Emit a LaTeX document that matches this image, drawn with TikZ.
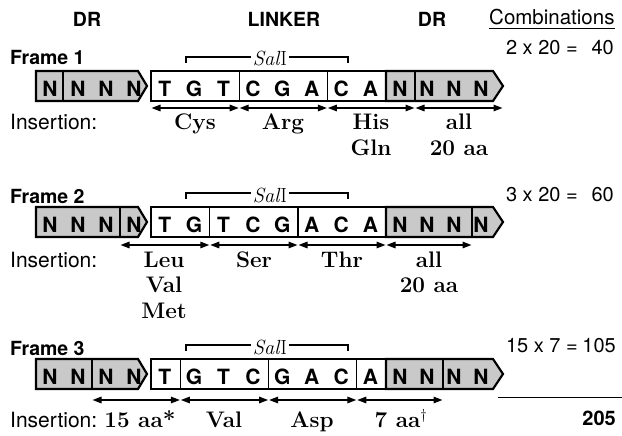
\documentclass[tikz,border=0pt]{standalone}
\usepackage{fontspec}
\setsansfont{TeX Gyre Heros}
\usetikzlibrary{arrows.meta}
\tikzset{
  dr/.style={fill=gray!42, draw=black, line width=2.2pt, line join=miter},
  lk/.style={draw=black, line width=2.2pt},
  div/.style={line width=1.3pt},
  nt/.style={font=\sffamily\bfseries\fontsize{21}{21}\selectfont, anchor=base, inner sep=0pt},
  aa/.style={font=\bfseries\fontsize{22.5}{25}\selectfont, anchor=base, inner sep=0pt},
  hdr/.style={font=\sffamily\bfseries\fontsize{19.5}{19.5}\selectfont, anchor=base, inner sep=0pt},
  frm/.style={font=\sffamily\bfseries\fontsize{19.5}{19.5}\selectfont, anchor=base west, inner sep=0pt},
  ins/.style={font=\sffamily\fontsize{21}{21}\selectfont, anchor=base west, inner sep=0pt},
  cmb/.style={font=\sffamily\fontsize{20}{20}\selectfont, anchor=base east, inner sep=0pt},
  sal/.style={font=\fontsize{20.5}{20.5}\selectfont, anchor=base, fill=white, inner xsep=2pt, inner ysep=0pt},
  bracket/.style={line width=1.1pt},
  span/.style={{Triangle[length=9pt,width=6.5pt]}-{Triangle[length=9pt,width=6.5pt]}, line width=1.4pt, shorten <=0.5pt, shorten >=0.5pt}
}
% #1 prefix, #2 top, #3 left DR divider, #4 right DR divider, #5 linker dividers
\newcommand\dnarow[5]{%
  \pgfmathsetmacro\tp{#2}\pgfmathsetmacro\bt{#2+30}%
  \pgfmathsetmacro\md{#2+15}\pgfmathsetmacro\bl{#2+25.5}%
  \pgfmathsetmacro\bra{#2-14}\pgfmathsetmacro\brb{#2-8}\pgfmathsetmacro\sb{#2-5}%
  \draw[dr] (36,\tp) -- (138,\tp) -- (147,\md) -- (138,\bt) -- (36,\bt) -- cycle;
  \draw[div] (#3,\tp) -- (#3,\bt);
  \foreach \x [count=\i] in {50,78,106,134} \node[nt] (#1l\i) at (\x,\bl) {N};
  \draw[lk] (151,\tp) rectangle (386,\bt);
  \foreach \x in {#5} \draw[div] (\x,\tp) -- (\x,\bt);
  \foreach \c [count=\i from 0] in {T,G,T,C,G,A,C,A}
    \node[nt] (#1k\i) at ({151+29.4*(\i+0.5)-1},\bl) {\c};
  \draw[dr] (386,\tp) -- (493,\tp) -- (503,\md) -- (493,\bt) -- (386,\bt) -- cycle;
  \draw[div] (#4,\tp) -- (#4,\bt);
  \foreach \x [count=\i] in {400,427,454,481} \node[nt] (#1r\i) at (\x,\bl) {N};
  \draw[bracket] (186,\brb) -- (186,\bra) -- (348,\bra) -- (348,\brb);
  \node[sal] (#1sal) at (270,\sb) {\textit{Sal}I};
}
\begin{document}
\begin{tikzpicture}[x=1pt,y=-1pt]
\useasboundingbox (0,0) rectangle (622,436);
% headers
\node[hdr] (h1) at (87,27) {DR};
\node[hdr] (h2) at (284,27) {LINKER};
\node[hdr] (h3) at (432,27) {DR};
\node[font=\sffamily\fontsize{20.5}{20.5}\selectfont, anchor=base west, inner sep=0pt] (comb) at (489,25) {Combinations};
\draw[line width=0.9pt] ([yshift=-3.5pt]comb.base west) -- ([yshift=-3.5pt]comb.base east);

% Frame 1
\node[frm] (f1) at (10,65) {Frame 1};
\dnarow{a}{71}{63}{415}{239.2,327.4}
\draw[span] (151,108) -- (239.2,108);
\draw[span] (239.2,108) -- (327.4,108);
\draw[span] (327.4,108) -- (415,108);
\draw[span] (415,108) -- (503,108);
\node[ins] (i1) at (10,130) {Insertion:};
\node[aa] (a1) at (195,130) {Cys};
\node[aa] (a2) at (283,130) {Arg};
\node[aa] (a3) at (371,130) {His};
\node[aa] (a3b) at (371,155) {Gln};
\node[aa] (a4) at (459,130) {all};
\node[aa] (a4b) at (459,155) {20 aa};
\node[cmb] (c1a) at (578,55) {2 x 20 =};
\node[cmb] (c1b) at (614,55) {40};

% Frame 2
\node[frm] (f2) at (10,203) {Frame 2};
\dnarow{b}{207}{120}{472}{209.8,298}
\draw[span] (120,245) -- (209.8,245);
\draw[span] (209.8,245) -- (298,245);
\draw[span] (298,245) -- (386,245);
\draw[span] (386,245) -- (472,245);
\node[ins] (i2) at (10,267) {Insertion:};
\node[aa] (b1) at (164,267) {Leu};
\node[aa] (b1b) at (164,292) {Val};
\node[aa] (b1c) at (164,318) {Met};
\node[aa] (b2) at (254,267) {Ser};
\node[aa] (b3) at (342,267) {Thr};
\node[aa] (b4) at (429,267) {all};
\node[aa] (b4b) at (429,292) {20 aa};
\node[cmb] (c2a) at (578,201) {3 x 20 =};
\node[cmb] (c2b) at (614,201) {60};

% Frame 3
\node[frm] (f3) at (10,355) {Frame 3};
\dnarow{c}{359}{92}{443}{180.4,268.6,356.8}
\draw[span] (92,400) -- (180.4,400);
\draw[span] (180.4,400) -- (268.6,400);
\draw[span] (268.6,400) -- (356.8,400);
\draw[span] (356.8,400) -- (443,400);
\node[ins] (i3) at (10,427) {Insertion:};
\node[aa] (d1) at (140,427) {15 aa*};
\node[aa] (d2) at (224,427) {Val};
\node[aa] (d3) at (312,427) {Asp};
\node[aa] (d4) at (401,427) {7 aa$^{\dagger}$};
\node[cmb] (c3a) at (578,352) {15 x 7 =};
\node[cmb] (c3b) at (616,352) {105};
\coordinate (sumL) at (498,397);
\coordinate (sumR) at (622,397);
\draw[line width=1pt] (sumL) -- (sumR);
\node[cmb, font=\sffamily\bfseries\fontsize{20}{20}\selectfont] (tot) at (616,425) {205};
\end{tikzpicture}
\end{document}
